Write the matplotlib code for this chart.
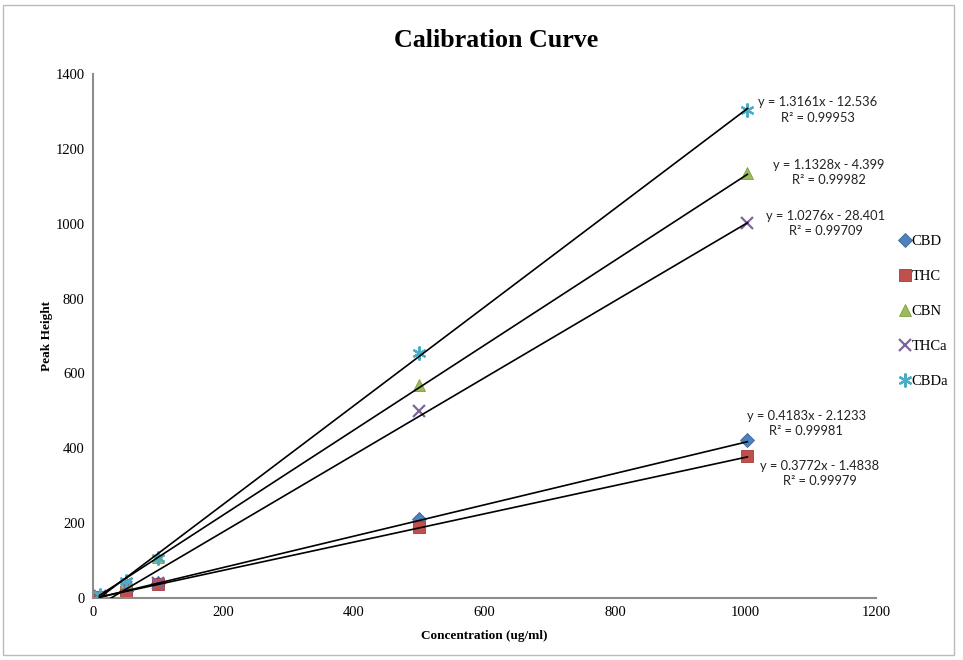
import matplotlib.pyplot as plt
from matplotlib.patches import Rectangle

# concentraciones de los estandares (ug/ml)
conc = [10, 50, 100, 500, 1003]

compuestos = ["CBD", "THC", "CBN", "THCa", "CBDa"]

# alturas de pico medidas
cbd = [3, 18, 40, 211, 422]
thc = [2, 16, 36, 190, 380]
cbn = [8, 42, 110, 569, 1136]
thca = [6, 30, 40, 500, 1002]
cbda = [8, 45, 106, 655, 1303]
alturas = [cbd, thc, cbn, thca, cbda]

# rectas de regresion (pendiente, ordenada, R2)
pendientes = [0.4183, 0.3772, 1.1328, 1.0276, 1.3161]
ordenadas = [-2.1233, -1.4838, -4.399, -28.401, -12.536]
r2 = ["0.99981", "0.99979", "0.99982", "0.99709", "0.99953"]

colores = ["#4F81BD", "#C0504D", "#9BBB59", "#8064A2", "#4BACC6"]
bordes = ["#3A6699", "#A33B38", "#7E9E42", "#6A4F8C", "#3591AA"]
marcadores = ["D", "s", "^", "x", (6, 2, 0)]
tamanos = [7, 9, 9, 9, 10]

# donde va cada ecuacion (coordenadas de datos)
pos_eq = [(1093, 466), (1114, 332), (1128, 1136), (1123, 1000), (1111, 1304)]

fig = plt.figure(figsize=(9.63, 6.6), dpi=100)
ax = fig.add_axes([0.0966, 0.094, 0.813, 0.794])

for i in range(len(compuestos)):
    if marcadores[i] in ("x", (6, 2, 0)):
        ax.plot(conc, alturas[i], linestyle="none", marker=marcadores[i],
                markersize=tamanos[i], color=colores[i], markeredgewidth=1.6,
                label=compuestos[i], zorder=2)
    else:
        ax.plot(conc, alturas[i], linestyle="none", marker=marcadores[i],
                markersize=tamanos[i], markerfacecolor=colores[i],
                markeredgecolor=bordes[i], markeredgewidth=0.6,
                label=compuestos[i], zorder=2)

# lineas de tendencia
for i in range(len(compuestos)):
    xs = [min(conc), max(conc)]
    ys = [pendientes[i] * x + ordenadas[i] for x in xs]
    ax.plot(xs, ys, color="black", linewidth=1.2, zorder=3)
    texto = "y = %sx - %s\nR² = %s" % (pendientes[i], -ordenadas[i], r2[i])
    ax.text(pos_eq[i][0], pos_eq[i][1], texto, ha="center", va="center",
            ma="center", fontsize=9.3, family="Lato", linespacing=1.35,
            color="#222222", clip_on=False)

ax.set_xlim(0, 1200)
ax.set_ylim(0, 1400)
ax.set_xticks(range(0, 1201, 200))
ax.set_yticks(range(0, 1401, 200))
ax.tick_params(length=0, labelsize=10.5, pad=6)
for lab in ax.get_xticklabels() + ax.get_yticklabels():
    lab.set_family("Liberation Serif")
for lado in ["top", "right"]:
    ax.spines[lado].set_visible(False)
for lado in ["left", "bottom"]:
    ax.spines[lado].set_color("#8C8C8C")
    ax.spines[lado].set_linewidth(1.5)

ax.set_xlabel("Concentration (ug/ml)", family="Liberation Serif",
              fontweight="bold", fontsize=9.5, labelpad=8)
ax.set_ylabel("Peak Height", family="Liberation Serif",
              fontweight="bold", fontsize=9.5, labelpad=2)
fig.text(0.515, 0.938, "Calibration Curve", ha="center", va="center",
         family="Liberation Serif", fontweight="bold", fontsize=18.7)

ley = ax.legend(loc="upper left", bbox_to_anchor=(1.02, 0.71), frameon=False,
                prop={"family": "Liberation Serif", "size": 10.5},
                handlelength=0.6, handletextpad=0.15, labelspacing=1.5,
                borderaxespad=0.2)

# marco exterior del grafico
fig.patches.append(Rectangle((0.003, 0.008), 0.988, 0.985,
                             transform=fig.transFigure, fill=False,
                             edgecolor="#BBBBBB", linewidth=1.0))

plt.savefig("out.png")
